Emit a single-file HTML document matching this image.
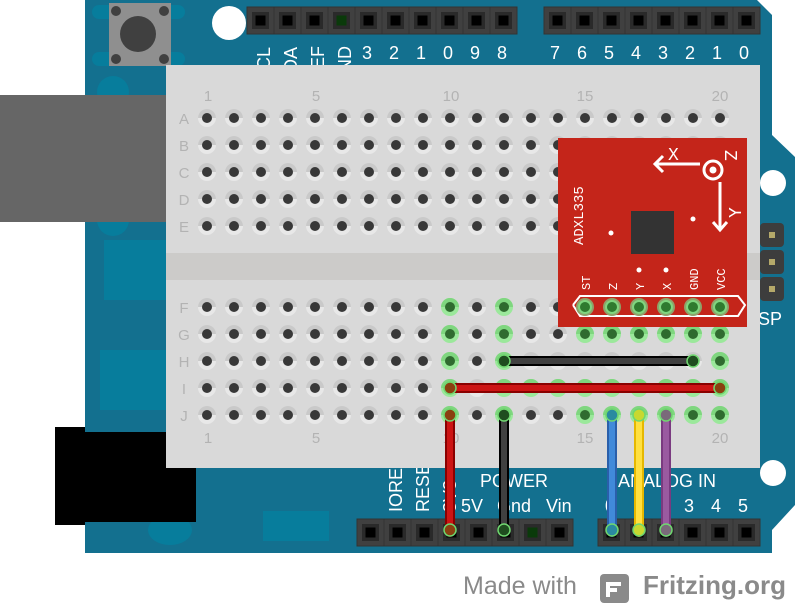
<!DOCTYPE html>
<html><head><meta charset="utf-8"><style>
html,body{margin:0;padding:0;background:#fff;}
svg{display:block;font-family:"Liberation Sans",sans-serif;}
</style></head><body>
<svg id="s" width="795" height="603" viewBox="0 0 795 603" xmlns="http://www.w3.org/2000/svg">
<polygon points="85,0 757,0 772,15 772,135 795,157 795,505 772,530 772,553 85,553" fill="#13708f"/>
<g fill="#077d9c">
<rect x="92" y="5" width="93" height="14" rx="7"/><rect x="92" y="52" width="93" height="14" rx="7"/>
<circle cx="113" cy="92" r="16"/><circle cx="113" cy="220" r="16"/>
<rect x="104" y="240" width="62" height="60"/><rect x="100" y="350" width="66" height="60"/>
<rect x="263" y="511" width="66" height="30"/>
<ellipse cx="170" cy="530" rx="22" ry="15"/>
</g>
<circle cx="229" cy="23" r="17" fill="#fff"/>
<circle cx="773" cy="183" r="13" fill="#fff"/>
<circle cx="773" cy="473" r="13" fill="#fff"/>
<rect x="109" y="3" width="62" height="63" fill="#8f8f8f"/>
<circle cx="138" cy="34" r="18" fill="#404040"/>
<circle cx="116" cy="11" r="5" fill="#404040"/><circle cx="164" cy="11" r="5" fill="#404040"/>
<circle cx="116" cy="59" r="5" fill="#404040"/><circle cx="164" cy="59" r="5" fill="#404040"/>
<rect x="0" y="95" width="166" height="127" fill="#666"/>
<rect x="55" y="427" width="30" height="98" fill="#000"/>
<rect x="85" y="432" width="111" height="90" fill="#000"/>
<g id="hdr"></g>
<g fill="#fff" font-size="18" text-anchor="middle">
<text x="367" y="59">3</text><text x="394" y="59">2</text><text x="421" y="59">1</text><text x="448" y="59">0</text><text x="475" y="59">9</text><text x="502" y="59">8</text>
<text x="555" y="59">7</text><text x="582" y="59">6</text><text x="609" y="59">5</text><text x="636" y="59">4</text><text x="663" y="59">3</text><text x="690" y="59">2</text><text x="717" y="59">1</text><text x="744" y="59">0</text>
<text transform="translate(270,82) rotate(-90)" text-anchor="start">SCL</text>
<text transform="translate(297,84) rotate(-90)" text-anchor="start">SDA</text>
<text transform="translate(324,94) rotate(-90)" text-anchor="start">AREF</text>
<text transform="translate(351,86) rotate(-90)" text-anchor="start">GND</text>
</g>
<g fill="#fff" font-size="18">
<text x="480" y="487">POWER</text>
<text x="461" y="512">5V</text><text x="497" y="512">Gnd</text><text x="546" y="512">Vin</text>
<text x="618" y="487">ANALOG IN</text>
<text x="684" y="512">3</text><text x="711" y="512">4</text><text x="738" y="512">5</text>
<text x="605" y="512">0</text>
<text transform="translate(402,512) rotate(-90)">IOREF</text>
<text transform="translate(429,512) rotate(-90)">RESET</text>
<text transform="translate(456,512) rotate(-90)">3V3</text>
</g>
<g fill="#3d3d3d">
<rect x="760" y="223" width="24" height="24" rx="4"/><rect x="760" y="250" width="24" height="24" rx="4"/><rect x="760" y="277" width="24" height="24" rx="4"/>
</g>
<g fill="#b5a96a"><rect x="769" y="232" width="6" height="6"/><rect x="769" y="259" width="6" height="6"/><rect x="769" y="286" width="6" height="6"/></g>
<text x="758" y="325" fill="#fff" font-size="18">SP</text>
<rect x="166" y="65" width="594" height="403" fill="#d9d9d9"/>
<rect x="166" y="253" width="594" height="27" fill="#cccbc9"/>
<g fill="#b3b3b3" font-size="15" text-anchor="middle">
<text x="208" y="101">1</text><text x="316" y="101">5</text><text x="451" y="101">10</text><text x="585" y="101">15</text><text x="720" y="101">20</text>
<text x="208" y="443">1</text><text x="316" y="443">5</text><text x="451" y="443">10</text><text x="585" y="443">15</text><text x="720" y="443">20</text>
<text x="184" y="124">A</text><text x="184" y="151">B</text><text x="184" y="178">C</text><text x="184" y="205">D</text><text x="184" y="232">E</text>
<text x="184" y="313">F</text><text x="184" y="340">G</text><text x="184" y="367">H</text><text x="184" y="394">I</text><text x="184" y="421">J</text>
</g>
<g id="holes"></g>
<rect x="558" y="138" width="189" height="189" fill="#c4251a"/>
<rect x="631" y="211" width="43" height="43" fill="#333"/>
<circle cx="611" cy="233" r="2.5" fill="#fff"/><circle cx="693" cy="219" r="2.5" fill="#fff"/>
<circle cx="639" cy="270" r="2.5" fill="#fff"/><circle cx="666" cy="270" r="2.5" fill="#fff"/>
<g stroke="#fff" stroke-width="3" fill="none">
<line x1="655" y1="164" x2="700" y2="164"/><polyline points="663,156 655,164 663,172"/>
<circle cx="713" cy="170" r="9"/>
<line x1="720" y1="182" x2="720" y2="230"/><polyline points="713,222 720,230 727,222"/>
<polyline points="573,305 580,296 738,296 745,305 738,316 580,316 573,305" stroke-width="2"/>
</g>
<circle cx="713" cy="170" r="3.5" fill="#fff"/>
<g fill="#fff" font-family="'Liberation Mono',monospace">
<text x="668" y="160" font-size="18">X</text>
<text transform="translate(725,150) rotate(90)" font-size="18">Z</text>
<text transform="translate(741,218) rotate(-90)" font-size="18">Y</text>
<text transform="translate(583,245) rotate(-90)" font-size="14">ADXL335</text>
<g font-size="12">
<text transform="translate(590,290) rotate(-90)">ST</text>
<text transform="translate(617,290) rotate(-90)">Z</text>
<text transform="translate(644,290) rotate(-90)">Y</text>
<text transform="translate(671,290) rotate(-90)">X</text>
<text transform="translate(698,290) rotate(-90)">GND</text>
<text transform="translate(725,290) rotate(-90)">VCC</text>
</g></g>
<g id="pins"></g>
<g stroke-linecap="round">
<line x1="504" y1="361" x2="693" y2="361" stroke="#000" stroke-width="10"/><line x1="504" y1="361" x2="693" y2="361" stroke="#404040" stroke-width="6"/>
<line x1="450" y1="388" x2="720" y2="388" stroke="#8a0000" stroke-width="10"/><line x1="450" y1="388" x2="720" y2="388" stroke="#cc1414" stroke-width="6"/>
<line x1="450" y1="415" x2="450" y2="532" stroke="#8a0000" stroke-width="10"/><line x1="450" y1="415" x2="450" y2="532" stroke="#cc1414" stroke-width="6"/>
<line x1="504" y1="415" x2="504" y2="532" stroke="#000" stroke-width="10"/><line x1="504" y1="415" x2="504" y2="532" stroke="#404040" stroke-width="6"/>
<line x1="612" y1="415" x2="612" y2="532" stroke="#2a5faa" stroke-width="10"/><line x1="612" y1="415" x2="612" y2="532" stroke="#418ada" stroke-width="6"/>
<line x1="639" y1="415" x2="639" y2="532" stroke="#e6b800" stroke-width="10"/><line x1="639" y1="415" x2="639" y2="532" stroke="#ffe040" stroke-width="6"/>
<line x1="666" y1="415" x2="666" y2="532" stroke="#7a3a80" stroke-width="10"/><line x1="666" y1="415" x2="666" y2="532" stroke="#9a5aa0" stroke-width="6"/>
</g>
<g id="ends"></g>
<text x="463" y="594" fill="#8a8a8a" font-size="25">Made with</text>
<rect x="600" y="574" width="29" height="29" rx="4" fill="#8a8a8a"/>
<path d="M608,597 V584 H621 M608,590 H617" stroke="#fff" stroke-width="4" fill="none"/>
<text x="643" y="594" fill="#8a8a8a" font-size="26" font-weight="bold">Fritzing.org</text>
</svg>
<script>
var NS="http://www.w3.org/2000/svg";
function el(p,t,a){var e=document.createElementNS(NS,t);for(var k in a)e.setAttribute(k,a[k]);document.getElementById(p).appendChild(e);return e;}
function hdr(x0,y0,n,green){for(var i=0;i<n;i++){var x=x0+i*27;el("hdr","rect",{x:x,y:y0,width:27,height:27,fill:"#404040",stroke:"#333","stroke-width":1});el("hdr","rect",{x:x+5,y:y0+5,width:17,height:17,fill:"#2a2a2a"});el("hdr","rect",{x:x+8.5,y:y0+8.5,width:10,height:10,fill:(green&&green.indexOf(i)>=0)?"#0a3a0a":"#000"});}}
hdr(247,7,10,[3]);hdr(544,7,8);hdr(357,519,8,[6]);hdr(598,519,6);
var rows=[118,145,172,199,226,307,334,361,388,415];
var green={5:[10,12,15,16,17,18,19,20],6:[10,12,15,16,17,18,19,20],7:[10,12,20],8:[10,12,13,14,15,16,17,18,19,20],9:[10,12,15,16,17,18,19,20]};
for(var r=0;r<10;r++)for(var c=1;c<=20;c++){var x=207+27*(c-1),y=rows[r];var g=green[r]&&green[r].indexOf(c)>=0;
el("holes","circle",{cx:x,cy:y,r:9,fill:g?"#9be89b":"#e8e8e8"});el("holes","path",{d:"M"+(x-9)+","+y+" A9,9 0 0,1 "+(x+9)+","+y+" Z",fill:g?"#7fd67f":"#c9c9c9"});
el("holes","circle",{cx:x,cy:y,r:5,fill:g?"#2f6b2f":"#383838"});}
for(var i=0;i<6;i++){var x=585+27*i;el("pins","circle",{cx:x,cy:307,r:9,fill:"#8da36a"});el("pins","circle",{cx:x,cy:307,r:6,fill:"#2f7a2f",stroke:"#7fd67f","stroke-width":2});}
var ends=[[504,361,"#1f4d1f"],[693,361,"#1f4d1f"],[450,388,"#8a4010"],[720,388,"#8a4010"],[450,415,"#8a4010"],[450,530,"#8a4010"],[504,415,"#1f4d1f"],[504,530,"#1f4d1f"],[612,415,"#2a8aa0"],[612,530,"#2a8aa0"],[639,415,"#c8d830"],[639,530,"#c8d830"],[666,415,"#7a6a7a"],[666,530,"#7a6a7a"]];
ends.forEach(function(e){el("ends","circle",{cx:e[0],cy:e[1],r:6,fill:e[2],stroke:"#6fd66f","stroke-width":1.5});});
</script>
</body></html>
